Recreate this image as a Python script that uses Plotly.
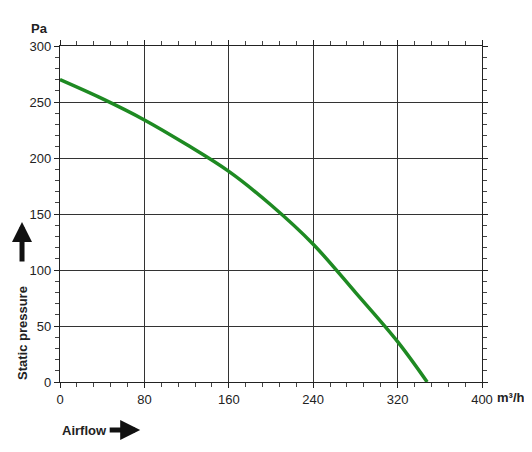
import plotly.graph_objects as go

# fan curve
airflow = [0, 40, 80, 120, 160, 200, 240, 280, 320, 348]
pressure = [270, 253, 234, 212, 188, 158, 123, 80, 36, 0]

x_ticks = [0, 80, 160, 240, 320, 400]
y_ticks = [0, 50, 100, 150, 200, 250, 300]

FONT = "Liberation Sans Narrow, Arial Narrow, Liberation Sans, sans-serif"

fig = go.Figure()
fig.add_trace(
    go.Scatter(
        x=airflow,
        y=pressure,
        mode="lines",
        line=dict(color="#1e8a22", width=3.5, shape="spline", smoothing=1),
        hoverinfo="skip",
        showlegend=False,
    )
)

axis_common = dict(
    showline=True,
    linecolor="#222",
    linewidth=1.2,
    mirror="allticks",
    showgrid=True,
    gridcolor="#333",
    gridwidth=1,
    zeroline=False,
    ticks="outside",
    ticklen=5,
    tickcolor="#222",
    tickfont=dict(family=FONT, size=13, color="#222"),
)

fig.update_xaxes(
    range=[0, 400],
    tickvals=x_ticks,
    minor=dict(dtick=16, tick0=0, ticks="outside", ticklen=4, tickcolor="#444", showgrid=False),
    **axis_common,
)
fig.update_yaxes(
    range=[0, 300],
    tickvals=y_ticks,
    minor=dict(dtick=10, tick0=0, ticks="outside", ticklen=4, tickcolor="#444", showgrid=False),
    **axis_common,
)

bold = dict(family=FONT, size=13, color="#222")
fig.add_annotation(text="<b>Pa</b>", xref="paper", yref="paper", x=0, y=1,
                   xshift=-10, yshift=18, showarrow=False, font=bold,
                   xanchor="right", yanchor="middle")
fig.add_annotation(text="<b>m³/h</b>", xref="paper", yref="paper", x=1, y=0,
                   xshift=13, yshift=-15, showarrow=False, font=bold,
                   xanchor="left", yanchor="middle")
fig.add_annotation(text="<b>Airflow</b>", xref="paper", yref="paper", x=0, y=0,
                   yshift=-48, showarrow=False, font=bold,
                   xanchor="left", yanchor="middle")
fig.add_annotation(text="<b>Static pressure</b>", xref="paper", yref="paper", x=-0.09, y=0,
                   textangle=-90, showarrow=False, font=bold, yanchor="bottom", xanchor="center")

# arrows next to the axis titles
fig.add_annotation(x=0.19, y=0, xref="paper", yref="paper", yshift=-48, ax=-32, ay=0,
                   text="", showarrow=True, arrowhead=2, arrowsize=0.8, arrowwidth=5,
                   arrowcolor="#111")
fig.add_annotation(x=-0.09, y=0.476, xref="paper", yref="paper", ax=0, ay=41,
                   text="", showarrow=True, arrowhead=2, arrowsize=0.8, arrowwidth=5,
                   arrowcolor="#111")

# page body adds 8px, so the figure is sized to fit the 532x452 window
fig.update_layout(
    width=524,
    height=444,
    margin=dict(l=52, r=50, t=38, b=70),
    paper_bgcolor="white",
    plot_bgcolor="white",
)

fig.write_html("out.html")
